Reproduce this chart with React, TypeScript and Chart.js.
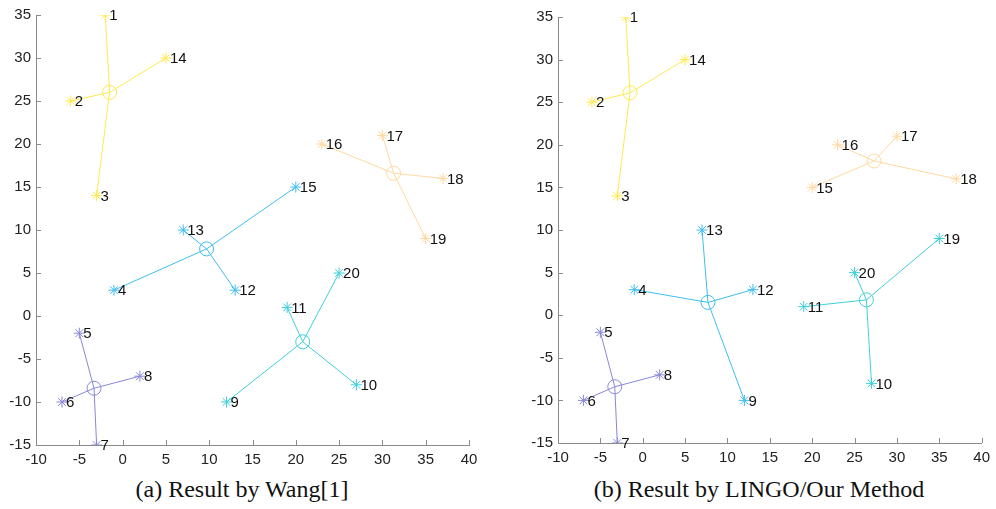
import React, { useEffect, useRef } from "react";
import { Chart, registerables } from "chart.js";

Chart.register(...registerables);

// Customer locations (id, x, y)
const pointIds = [1, 2, 3, 4, 5, 6, 7, 8, 9, 10, 11, 12, 13, 14, 15, 16, 17, 18, 19, 20];
const pointX = [-2, -6, -3, -1, -5, -7, -3, 2, 12, 27, 19, 13, 7, 5, 20, 23, 30, 37, 35, 25];
const pointY = [35, 25, 14, 3, -2, -10, -15, -7, -10, -8, 1, 3, 10, 30, 15, 20, 21, 16, 9, 5];

// Cluster colours: yellow, orange, blue, cyan, purple
const clusterColors = ["#ffe94f", "#ffd8a0", "#3fbdee", "#3fcfdc", "#8888d8"];

// (a) Wang[1]
const wangMembers = [
  [1, 2, 3, 14],
  [16, 17, 18, 19],
  [4, 12, 13, 15],
  [9, 10, 11, 20],
  [5, 6, 7, 8],
];
const wangCenterX = [-1.5, 31.3, 9.7, 20.8, -3.3];
const wangCenterY = [26.0, 16.6, 7.8, -3.0, -8.4];

// (b) LINGO / our method
const lingoMembers = [
  [1, 2, 3, 14],
  [15, 16, 17, 18],
  [4, 9, 12, 13],
  [10, 11, 19, 20],
  [5, 6, 7, 8],
];
const lingoCenterX = [-1.5, 27.3, 7.7, 26.4, -3.3];
const lingoCenterY = [26.1, 18.1, 1.5, 1.8, -8.4];

const xTicks = [-10, 0, 40, 5];
const yTicks = [-15, 0, 35, 5];

const axisColor = "#8a8a8a";
const textColor = "#222222";
const tickFont = "Liberation Sans, Arial, sans-serif";

const pos = (id: number) => {
  const i = pointIds.indexOf(id);
  return { x: pointX[i], y: pointY[i] };
};

// Point number labels beside each star marker
const idLabelPlugin = {
  id: "idLabels",
  afterDatasetsDraw(chart: any) {
    const ctx = chart.ctx;
    ctx.save();
    ctx.fillStyle = "#111111";
    ctx.font = `15px ${tickFont}`;
    ctx.textAlign = "left";
    ctx.textBaseline = "middle";
    chart.data.datasets.forEach((ds: any, i: number) => {
      if (!ds.ids) return;
      const meta = chart.getDatasetMeta(i);
      meta.data.forEach((el: any, j: number) => {
        ctx.fillText(String(ds.ids[j]), el.x + 4, el.y + 1);
      });
    });
    ctx.restore();
  },
};

// Short tick marks pointing into the plot area
const innerTickPlugin = {
  id: "innerTicks",
  afterDraw(chart: any) {
    const { ctx, chartArea, scales } = chart;
    ctx.save();
    ctx.strokeStyle = axisColor;
    ctx.lineWidth = 1;
    ctx.beginPath();
    scales.x.ticks.forEach((t: any) => {
      const px = Math.round(scales.x.getPixelForValue(t.value)) + 0.5;
      ctx.moveTo(px, chartArea.bottom);
      ctx.lineTo(px, chartArea.bottom - 5);
    });
    scales.y.ticks.forEach((t: any) => {
      const py = Math.round(scales.y.getPixelForValue(t.value)) + 0.5;
      ctx.moveTo(chartArea.left, py);
      ctx.lineTo(chartArea.left + 5, py);
    });
    ctx.stroke();
    ctx.restore();
  },
};

type PanelProps = {
  members: number[][];
  centerX: number[];
  centerY: number[];
  left: number;
  width: number;
  height: number;
  padTop: number;
  padRight: number;
  yAxisWidth: number;
};

function Panel(props: PanelProps) {
  const ref = useRef<HTMLCanvasElement | null>(null);
  useEffect(() => {
    if (!ref.current) return;
    const datasets: any[] = [];
    props.members.forEach((ids, k) => {
      const c = { x: props.centerX[k], y: props.centerY[k] };
      const color = clusterColors[k];
      // one line segment from the centre to each member
      ids.forEach((id) => {
        datasets.push({
          data: [c, pos(id)],
          showLine: true,
          borderColor: color,
          borderWidth: 1,
          pointRadius: 0,
          fill: false,
        });
      });
      datasets.push({
        data: ids.map(pos),
        ids,
        showLine: false,
        pointStyle: "star",
        pointRadius: 5.5,
        borderColor: color,
        borderWidth: 1,
        backgroundColor: color,
      });
      datasets.push({
        data: [c],
        showLine: false,
        pointStyle: "circle",
        pointRadius: 7,
        borderColor: color,
        borderWidth: 1,
        backgroundColor: "rgba(0,0,0,0)",
      });
    });

    const chart = new Chart(ref.current, {
      type: "scatter",
      data: { datasets },
      plugins: [idLabelPlugin, innerTickPlugin],
      options: {
        animation: false,
        responsive: false,
        events: [],
        layout: { padding: { left: 0, top: props.padTop, right: props.padRight, bottom: 0 } },
        plugins: { legend: { display: false }, tooltip: { enabled: false } },
        scales: {
          x: {
            type: "linear",
            min: xTicks[0],
            max: xTicks[2],
            ticks: {
              stepSize: xTicks[3],
              color: textColor,
              font: { family: tickFont, size: 15 },
              padding: 6,
              maxRotation: 0,
              autoSkip: false,
            },
            grid: { display: false, drawTicks: false },
            border: { display: true, color: axisColor, width: 1 },
            afterFit: (s: any) => {
              s.height = 30;
            },
          },
          y: {
            type: "linear",
            min: yTicks[0],
            max: yTicks[2],
            ticks: {
              stepSize: yTicks[3],
              color: textColor,
              font: { family: tickFont, size: 15 },
              padding: 5,
              autoSkip: false,
            },
            grid: { display: false, drawTicks: false },
            border: { display: true, color: axisColor, width: 1 },
            afterFit: (s: any) => {
              s.width = props.yAxisWidth;
            },
          },
        },
      } as any,
    });
    return () => chart.destroy();
  }, []);

  return (
    <canvas
      ref={ref}
      width={props.width}
      height={props.height}
      style={{
        position: "absolute",
        left: props.left,
        top: 0,
        width: props.width,
        height: props.height,
      }}
    />
  );
}

const captionStyle: React.CSSProperties = {
  position: "absolute",
  top: 475,
  width: 420,
  textAlign: "center",
  fontFamily: "Liberation Serif, Times New Roman, serif",
  fontSize: 24,
  lineHeight: "28px",
  color: "#111111",
  whiteSpace: "nowrap",
};

export default function App() {
  return (
    <div
      style={{
        position: "fixed",
        left: 0,
        top: 0,
        width: 996,
        height: 509,
        background: "#ffffff",
        overflow: "hidden",
      }}
    >
      <Panel
        members={wangMembers}
        centerX={wangCenterX}
        centerY={wangCenterY}
        left={0}
        width={490}
        height={475}
        padTop={15}
        padRight={21}
        yAxisWidth={36}
      />
      <Panel
        members={lingoMembers}
        centerX={lingoCenterX}
        centerY={lingoCenterY}
        left={500}
        width={496}
        height={473}
        padTop={17}
        padRight={11}
        yAxisWidth={58}
      />
      <div style={{ ...captionStyle, left: 242 - 210 }}>(a) Result by Wang[1]</div>
      <div style={{ ...captionStyle, left: 759 - 210 }}>(b) Result by LINGO/Our Method</div>
    </div>
  );
}
